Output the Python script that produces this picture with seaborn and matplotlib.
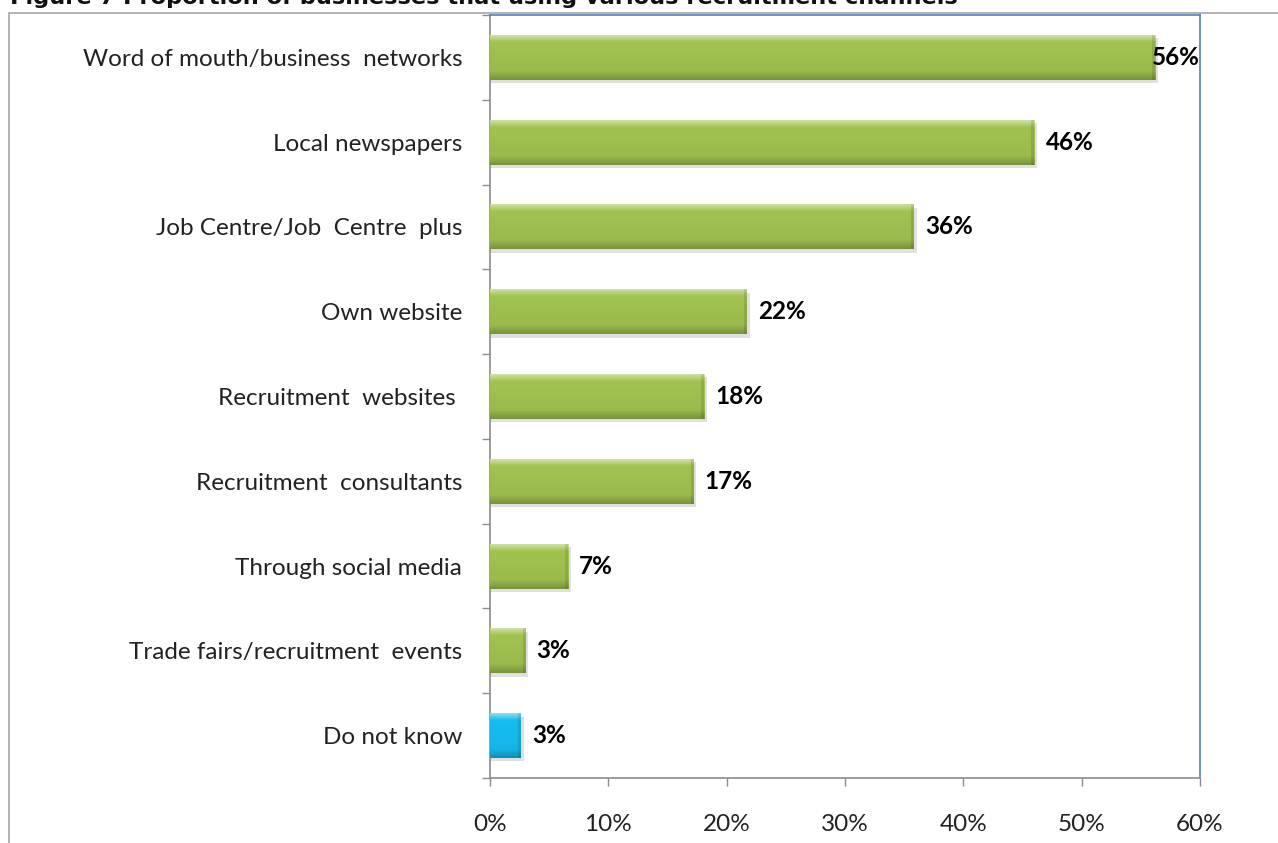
import numpy as np
import pandas as pd
import matplotlib
matplotlib.use("Agg")
import matplotlib.pyplot as plt
from matplotlib.patches import Rectangle
from matplotlib.colors import LinearSegmentedColormap
import seaborn as sns

# Recruitment channels and share of businesses using each (%)
channels = [
    "Word of mouth/business  networks",
    "Local newspapers",
    "Job Centre/Job  Centre  plus",
    "Own website",
    "Recruitment  websites ",
    "Recruitment  consultants",
    "Through social media",
    "Trade fairs/recruitment  events",
    "Do not know",
]
shares = [56.2, 46.0, 35.8, 21.7, 18.1, 17.2, 6.6, 3.0, 2.6]
xticks = [0, 10, 20, 30, 40, 50, 60]
title = "Figure 7 Proportion of businesses that using various recruitment channels"

GREEN = "#A0C350"
BLUE = "#16BDF0"
bar_colors = [GREEN] * 8 + [BLUE]

sns.set_theme(style="white")
plt.rcParams["font.family"] = ["Lato", "DejaVu Sans"]

W, H, DPI = 1278, 843, 100
fig = plt.figure(figsize=(W / DPI, H / DPI), dpi=DPI)

# Outer chart frame
fig.patches.append(Rectangle((9 / W, -0.1), 1.2, 1.1 - 13 / H, transform=fig.transFigure,
                             fill=False, edgecolor="#A6A6A6", linewidth=1.2, zorder=0))
fig.text(10 / W, 1 - 4 / H, title, fontsize=16.2, fontweight="bold",
         family=["DejaVu Sans"], va="baseline", ha="left", color="#111111")

ax = fig.add_axes([490 / W, 1 - 778 / H, (1200 - 490) / W, (778 - 15) / H])

df = pd.DataFrame({"channel": channels, "share": shares})
sns.barplot(data=df, x="share", y="channel", hue="channel", palette=bar_colors,
            legend=False, orient="h", width=0.53, ax=ax, saturation=1,
            edgecolor="none", zorder=3)

# Soft shading on each bar: light top edge, darker bottom, with a drop shadow
def shade_map(base):
    c = np.array(matplotlib.colors.to_rgb(base))
    light = np.clip(c + (1 - c) * 0.5, 0, 1)
    dark = c * 0.75
    return LinearSegmentedColormap.from_list(
        "shade", [(0, light), (0.15, c), (0.8, c * 0.96), (1, dark)])

for patch, col in zip(list(ax.patches), bar_colors):
    x0, y0 = patch.get_x(), patch.get_y()
    w, h = patch.get_width(), patch.get_height()
    shadow = Rectangle((x0, y0 + 0.04), w + 0.25, h, facecolor="#000000",
                       alpha=0.12, edgecolor="none", zorder=2)
    ax.add_patch(shadow)
    grad = np.linspace(0, 1, 64).reshape(-1, 1)
    im = ax.imshow(grad, extent=(x0, x0 + w, y0 + h, y0), cmap=shade_map(col),
                   aspect="auto", zorder=4, interpolation="bicubic")
    im.set_clip_path(patch)
    ax.add_patch(Rectangle((x0 + w - 0.25, y0), 0.25, h, facecolor="#000000",
                           alpha=0.10, edgecolor="none", zorder=5))

ax.set_xlim(0, 60)
ax.set_ylim(len(channels) - 0.5, -0.5)

# Value labels
for i, v in enumerate(shares):
    txt = f"{v:.0f}%"
    if v + 4.5 > 60:
        ax.text(60, i, txt, ha="right", va="center", fontsize=17.5,
                fontweight="bold", color="#000000", zorder=6)
    else:
        ax.annotate(txt, (v, i), xytext=(8, 0), textcoords="offset points",
                    ha="left", va="center", fontsize=17.5, fontweight="bold",
                    color="#000000", zorder=6)

ax.set_xticks(xticks)
ax.set_xticklabels([f"{t}%" for t in xticks], fontsize=17.5, color="#222222")
ax.set_yticks(range(len(channels)))
ax.set_yticklabels(channels, fontsize=17.5, color="#222222")
ax.set_xlabel("")
ax.set_ylabel("")

# Tick marks between categories on y, at each value on x
ax.set_yticks(np.arange(-0.5, len(channels) - 0.4, 1), minor=True)
ax.tick_params(axis="y", which="major", left=True, length=0, pad=20)
ax.tick_params(axis="y", which="minor", left=True, length=6, width=1,
               color="#8C8C8C", direction="out")
ax.tick_params(axis="x", which="major", bottom=True, length=6, width=1,
               color="#8C8C8C", direction="out", pad=20)

for side in ["left", "bottom"]:
    ax.spines[side].set_color("#8C8C8C")
    ax.spines[side].set_linewidth(1.2)
for side in ["top", "right"]:
    ax.spines[side].set_color("#4F81BD")
    ax.spines[side].set_linewidth(1.2)
ax.grid(False)

fig.savefig("out.png", dpi=DPI)
